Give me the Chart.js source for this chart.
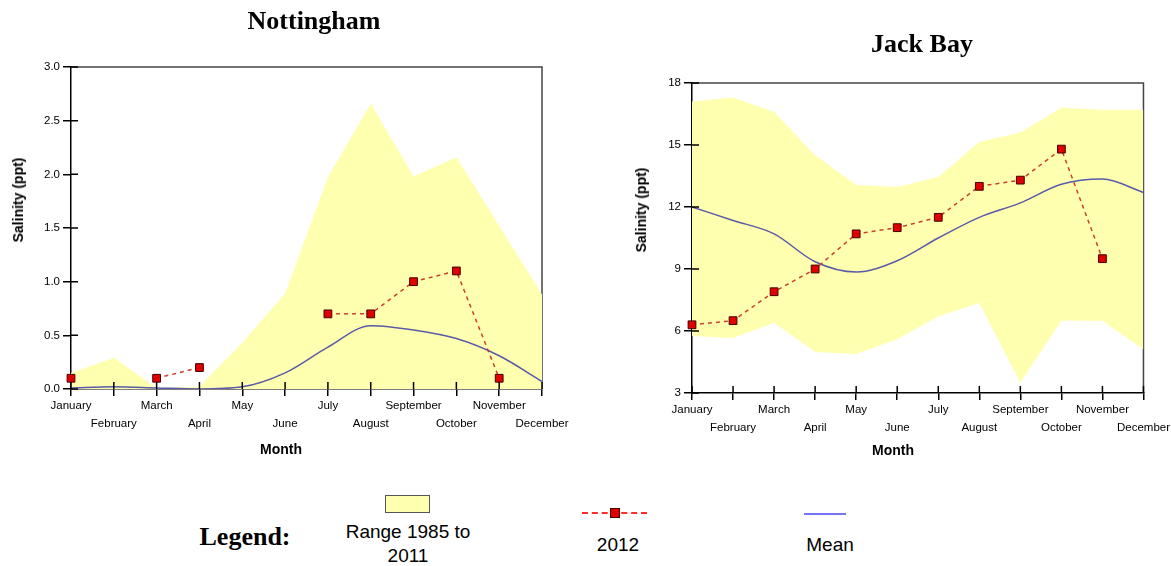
<!DOCTYPE html>
<html>
<head>
<meta charset="utf-8">
<script src="https://cdn.jsdelivr.net/npm/chart.js@4"></script>
<style>
    body { margin: 0; background: #fff; width: 1171px; height: 566px; overflow: hidden; position: relative; font-family: "Liberation Sans", Arial, sans-serif; }
    canvas { position: absolute; top: 0; }
    .txt { position: absolute; transform: translate(-50%, -50%); white-space: nowrap; line-height: 1; color: #000; }
    .ttl { font: bold 26px "Liberation Serif", "Times New Roman", serif; }
    .axt { font: bold 14px "Liberation Sans", Arial, sans-serif; }
    .rot { transform: translate(-50%, -50%) rotate(-90deg); }
    .leg { font: 19px "Liberation Sans", Arial, sans-serif; }
</style>
</head>
<body>
<canvas id="nottingham" width="590" height="470" style="left:0"></canvas>
<canvas id="jackBay" width="571" height="470" style="left:600px"></canvas>

<div class="txt ttl" style="left:314px;top:21px">Nottingham</div>
<div class="txt ttl" style="left:922px;top:44px">Jack Bay</div>

<div class="txt axt rot" style="left:18px;top:200px">Salinity (ppt)</div>
<div class="txt axt rot" style="left:641px;top:210px">Salinity (ppt)</div>
<div class="txt axt" style="left:281px;top:449px">Month</div>
<div class="txt axt" style="left:893px;top:450px">Month</div>

<div class="txt ttl" style="left:245px;top:537px">Legend:</div>
<div style="position:absolute;left:385px;top:495px;width:45px;height:18px;box-sizing:border-box;background:#ffffb0;border:1.5px solid #555"></div>
<div class="txt leg" style="left:408px;top:544px;line-height:24px;text-align:center">Range 1985 to<br>2011</div>
<div style="position:absolute;left:582px;top:512px;width:65px;height:0;border-top:2px dashed #ff2a2a"></div>
<div style="position:absolute;left:610px;top:508px;width:10px;height:10px;box-sizing:border-box;background:#e00000;border:1px solid #400"></div>
<div class="txt leg" style="left:618px;top:545px">2012</div>
<div style="position:absolute;left:804px;top:513px;width:42px;height:2px;background:#7373ff"></div>
<div class="txt leg" style="left:830px;top:545px">Mean</div>

<script>
const months = ["January", "February", "March", "April", "May", "June",
    "July", "August", "September", "October", "November", "December"];

// Nottingham
const nottRangeLow = [0, 0, 0, 0, 0, 0, 0, 0, 0, 0, 0, 0];
const nottRangeHigh = [0.15, 0.29, 0.01, 0.02, 0.43, 0.89, 1.97, 2.66, 1.98, 2.16, 1.52, 0.88];
const nottMean = [0.01, 0.02, 0.01, 0.0, 0.02, 0.15, 0.39, 0.59, 0.55, 0.47, 0.31, 0.07];
const nott2012 = [0.1, null, 0.1, 0.2, null, null, 0.7, 0.7, 1.0, 1.1, 0.1, null];

// Jack Bay
const jackRangeLow = [5.76, 5.66, 6.4, 4.98, 4.89, 5.6, 6.7, 7.35, 3.5, 6.5, 6.5, 5.1];
const jackRangeHigh = [17.1, 17.3, 16.6, 14.5, 13.06, 12.97, 13.45, 15.15, 15.6, 16.8, 16.7, 16.7];
const jackMean = [12.0, 11.35, 10.7, 9.35, 8.85, 9.4, 10.5, 11.5, 12.2, 13.1, 13.35, 12.7];
const jack2012 = [6.3, 6.5, 7.9, 9.0, 10.7, 11.0, 11.5, 13.0, 13.3, 14.8, 9.5, null];

const tickFont = {family: "'Liberation Sans', Arial, sans-serif", size: 11.5, lineHeight: 1.55};

// top and right border of the plot box
const frame = {
    id: 'frame',
    beforeDatasetsDraw(chart) {
        const {ctx, chartArea: a} = chart;
        ctx.save();
        ctx.strokeStyle = '#444';
        ctx.lineWidth = 1.5;
        ctx.beginPath();
        ctx.moveTo(a.left, a.top);
        ctx.lineTo(a.right, a.top);
        ctx.lineTo(a.right, a.bottom);
        ctx.stroke();
        ctx.restore();
    }
};

// tick marks also reach inside the plot
const innerTicks = {
    id: 'innerTicks',
    afterDatasetsDraw(chart) {
        const {ctx, chartArea: a, scales} = chart;
        ctx.save();
        ctx.strokeStyle = '#000';
        ctx.lineWidth = 1.5;
        ctx.beginPath();
        scales.x.ticks.forEach((t, i) => {
            const px = scales.x.getPixelForTick(i);
            ctx.moveTo(px, a.bottom);
            ctx.lineTo(px, a.bottom - 7);
        });
        scales.y.ticks.forEach((t, i) => {
            const py = scales.y.getPixelForTick(i);
            ctx.moveTo(a.left, py);
            ctx.lineTo(a.left + 7, py);
        });
        ctx.stroke();
        ctx.restore();
    }
};

function makeChart(id, cfg) {
    const datasets = [
        {
            label: '2012',
            data: cfg.y2012,
            borderColor: '#c8402e',
            borderWidth: 1.5,
            borderDash: [4, 4],
            pointStyle: 'rect',
            pointRadius: 5.5,
            pointBackgroundColor: '#e00000',
            pointBorderColor: '#400',
            pointBorderWidth: 1,
            spanGaps: false,
            clip: false,
        },
        {
            label: 'Mean',
            data: cfg.mean,
            borderColor: '#5a5aa8',
            borderWidth: 1.5,
            pointRadius: 0,
            cubicInterpolationMode: 'monotone',
        },
        {
            label: 'Range high',
            data: cfg.high,
            borderWidth: 0,
            pointRadius: 0,
            backgroundColor: '#ffffb0',
            fill: '+1',
        },
        {
            label: 'Range low',
            data: cfg.low,
            borderWidth: 0,
            pointRadius: 0,
            fill: false,
        },
    ];

    new Chart(document.getElementById(id), {
        type: 'line',
        data: {labels: months, datasets: datasets},
        options: {
            responsive: false,
            animation: false,
            layout: {padding: cfg.padding},
            plugins: {
                legend: {display: false},
                tooltip: {enabled: false},
            },
            scales: {
                x: {
                    offset: false,
                    afterFit: (s) => { s.height = cfg.xHeight; },
                    grid: {drawOnChartArea: false, color: '#000', lineWidth: 1.5, tickLength: 7},
                    border: {color: '#000', width: 1.5},
                    ticks: {
                        color: '#000',
                        font: tickFont,
                        padding: 1,
                        maxRotation: 0,
                        autoSkip: false,
                        callback: (v, i) => i % 2 === 0 ? [months[i]] : ['', months[i]],
                    },
                },
                y: {
                    min: cfg.min,
                    max: cfg.max,
                    afterFit: (s) => { s.width = cfg.yWidth; },
                    grid: {drawOnChartArea: false, color: '#000', lineWidth: 1.5, tickLength: 8},
                    border: {color: '#000', width: 1.5},
                    ticks: {
                        color: '#000',
                        font: {family: tickFont.family, size: 11.5},
                        padding: 3,
                        stepSize: cfg.step,
                        callback: cfg.fmt,
                    },
                },
            },
        },
        plugins: [frame, innerTicks],
    });
}

makeChart('nottingham', {
    y2012: nott2012, mean: nottMean, high: nottRangeHigh, low: nottRangeLow,
    min: 0, max: 3, step: 0.5, fmt: (v) => v.toFixed(1),
    padding: {top: 67, right: 48, left: 0, bottom: 0},
    yWidth: 71, xHeight: 81,
});

makeChart('jackBay', {
    y2012: jack2012, mean: jackMean, high: jackRangeHigh, low: jackRangeLow,
    min: 3, max: 18, step: 3, fmt: (v) => v,
    padding: {top: 83, right: 27, left: 0, bottom: 0},
    yWidth: 92, xHeight: 77,
});
</script>
</body>
</html>
